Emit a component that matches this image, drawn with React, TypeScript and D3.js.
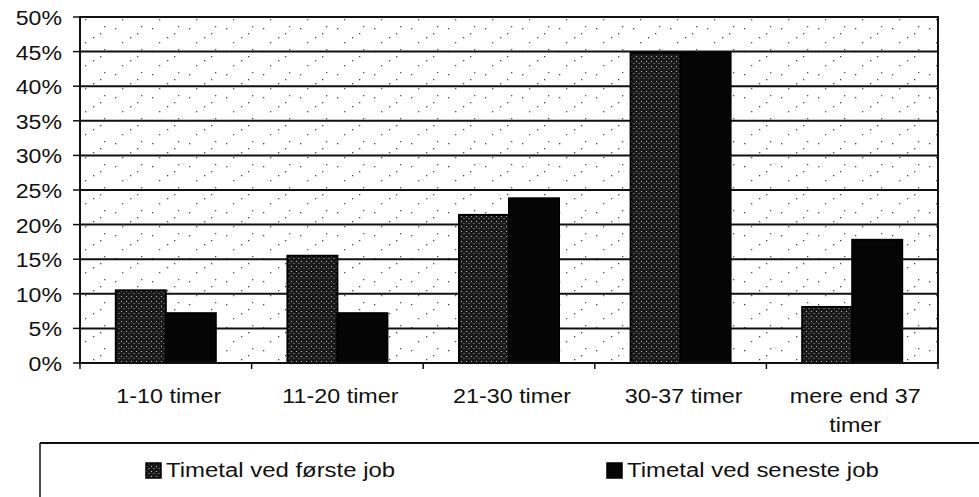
import React from "react";
import * as d3 from "d3";

const categories: string[][] = [
  ["1-10 timer"],
  ["11-20 timer"],
  ["21-30 timer"],
  ["30-37 timer"],
  ["mere end 37", "timer"],
];
const seriesNames = ["Timetal ved første job", "Timetal ved seneste job"];
const firstJob = [10.5, 15.5, 21.4, 44.8, 8.1];
const latestJob = [7.2, 7.2, 23.8, 44.8, 17.8];
const yTicks = [0, 5, 10, 15, 20, 25, 30, 35, 40, 45, 50];

const W = 979;
const H = 497;
const left = 80;
const right = 938;
const top = 17;
const bottom = 363;
const FONT = "'Liberation Sans', Arial, sans-serif";

function StretchText(props: { x: number; y: number; size: number; sx: number; anchor: string; children: React.ReactNode }) {
  return (
    <g transform={`translate(${props.x},${props.y}) scale(${props.sx},1)`}>
      <text x={0} y={0} fontSize={props.size} fontFamily={FONT} textAnchor={props.anchor as any} fill="#111">
        {props.children}
      </text>
    </g>
  );
}

export default function App() {
  const keys = categories.map((c) => c.join(" "));
  const x0 = d3.scaleBand<string>().domain(keys).range([left, right]).padding(0);
  const bw = x0.bandwidth();
  const groupW = 100;
  const x1 = d3
    .scaleBand<string>()
    .domain(seriesNames)
    .range([(bw - groupW) / 2, (bw + groupW) / 2])
    .padding(0);
  const y = d3.scaleLinear().domain([0, 50]).range([bottom, top]);
  const values = [firstJob, latestJob];
  const fills = ["url(#stip)", "#050505"];

  return (
    <svg width={W} height={H} style={{ position: "absolute", left: 0, top: 0, background: "#fff" }}>
      <defs>
        <pattern id="stip" width="5" height="5" patternUnits="userSpaceOnUse">
          <rect width="5" height="5" fill="#1a1a1a" />
          <rect x="1" y="1" width="1" height="1" fill="#bbb" />
          <rect x="3.5" y="3" width="1" height="1" fill="#999" />
        </pattern>
        <pattern id="noise" width="37" height="23" patternUnits="userSpaceOnUse">
          <rect x="4" y="5" width="1.3" height="1.3" fill="#444" />
          <rect x="19" y="14" width="1.3" height="1.3" fill="#444" />
          <rect x="30" y="3" width="1.3" height="1.3" fill="#555" />
          <rect x="11" y="19" width="1.3" height="1.3" fill="#555" />
          <rect x="26" y="10" width="1.3" height="1.3" fill="#444" />
        </pattern>
      </defs>

      <rect x={left} y={top} width={right - left} height={bottom - top} fill="#fff" />
      <rect x={left} y={top} width={right - left} height={bottom - top} fill="url(#noise)" />

      {yTicks.map((t) => (
        <g key={t}>
          <line x1={left} x2={right} y1={y(t)} y2={y(t)} stroke="#111" strokeWidth={2} />
          <line x1={left - 7} x2={left} y1={y(t)} y2={y(t)} stroke="#111" strokeWidth={1.5} />
          <StretchText x={62} y={y(t) + 8} size={21} sx={1.1} anchor="end">
            {t}%
          </StretchText>
        </g>
      ))}

      {values.map((vals, si) =>
        vals.map((v, ci) => {
          const bx = (x0(keys[ci]) as number) + (x1(seriesNames[si]) as number);
          return (
            <rect
              key={`${si}-${ci}`}
              x={bx}
              y={y(v)}
              width={x1.bandwidth()}
              height={bottom - y(v)}
              fill={fills[si]}
              stroke="#000"
              strokeWidth={2}
            />
          );
        })
      )}

      <rect x={left} y={top} width={right - left} height={bottom - top} fill="none" stroke="#111" strokeWidth={2} />

      {keys.map((k) => (
        <line key={k} x1={x0(k) as number} x2={x0(k) as number} y1={bottom} y2={bottom + 6} stroke="#111" strokeWidth={1.5} />
      ))}
      <line x1={right} x2={right} y1={bottom} y2={bottom + 6} stroke="#111" strokeWidth={1.5} />

      {categories.map((lines, ci) =>
        lines.map((ln, li) => (
          <StretchText
            key={`${ci}-${li}`}
            x={(x0(keys[ci]) as number) + bw / 2 + 3}
            y={403 + li * 29}
            size={21}
            sx={1.11}
            anchor="middle"
          >
            {ln}
          </StretchText>
        ))
      )}

      <line x1={40} x2={W} y1={443} y2={443} stroke="#111" strokeWidth={2} />
      <line x1={40} x2={40} y1={443} y2={H} stroke="#111" strokeWidth={1.5} />
      {seriesNames.map((s, i) => {
        const lx = [146, 607][i];
        return (
          <g key={s}>
            <rect x={lx} y={463} width={15} height={15} fill={fills[i]} stroke="#000" strokeWidth={1.5} />
            <StretchText x={lx + 20} y={477} size={21} sx={1.14} anchor="start">
              {s}
            </StretchText>
          </g>
        );
      })}
    </svg>
  );
}
